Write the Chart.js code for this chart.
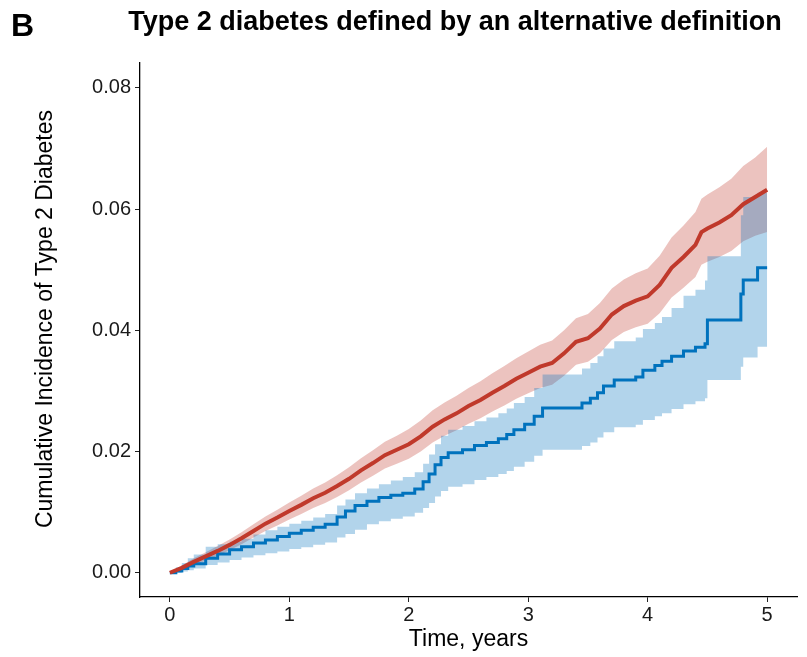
<!DOCTYPE html>
<html>
<head>
<meta charset="utf-8">
<script src="https://cdn.jsdelivr.net/npm/chart.js@4.4.0/dist/chart.umd.min.js"></script>
<style>
  html, body { margin: 0; padding: 0; background: #fff; }
</style>
</head>
<body>
<canvas id="kmChart" width="807" height="657"></canvas>
<script>
// Axis ticks
const xTicks = [0, 1, 2, 3, 4, 5];
const yTicks = [0, 0.02, 0.04, 0.06, 0.08];

// Red group: estimate with 95% CI
const redTime = [0, 0.1, 0.2, 0.3, 0.4, 0.5, 0.6, 0.7, 0.8, 0.9, 1.0, 1.1, 1.2, 1.3, 1.4, 1.5, 1.6, 1.7, 1.8, 1.9,
  2.0, 2.1, 2.2, 2.3, 2.4, 2.5, 2.6, 2.7, 2.8, 2.9, 3.0, 3.1, 3.2, 3.3, 3.4, 3.5, 3.6, 3.7, 3.8, 3.9,
  4.0, 4.1, 4.2, 4.3, 4.4, 4.45, 4.5, 4.6, 4.7, 4.8, 4.9, 5.0];
const redEst = [0, 0.0008, 0.0018, 0.0027, 0.0036, 0.0046, 0.0057, 0.0069, 0.0081, 0.0091, 0.0102, 0.0112, 0.0123, 0.0132, 0.0143, 0.0155, 0.0169, 0.0181, 0.0194, 0.0203,
  0.0212, 0.0225, 0.0241, 0.0253, 0.0263, 0.0275, 0.0285, 0.0297, 0.0308, 0.0320, 0.0330, 0.0340, 0.0346, 0.0362, 0.0381, 0.0387, 0.0403, 0.0426, 0.0440, 0.0449,
  0.0456, 0.0475, 0.0503, 0.0521, 0.0541, 0.0562, 0.0568, 0.0578, 0.0590, 0.0608, 0.0620, 0.0632];
const redLower = [0, 0.0005, 0.0012, 0.0020, 0.0028, 0.0037, 0.0047, 0.0058, 0.0069, 0.0078, 0.0088, 0.0097, 0.0107, 0.0115, 0.0125, 0.0136, 0.0149, 0.0160, 0.0172, 0.0180,
  0.0188, 0.0200, 0.0215, 0.0226, 0.0235, 0.0246, 0.0255, 0.0266, 0.0276, 0.0287, 0.0296, 0.0305, 0.0310, 0.0325, 0.0343, 0.0348, 0.0362, 0.0384, 0.0397, 0.0405,
  0.0411, 0.0428, 0.0454, 0.0470, 0.0488, 0.0508, 0.0513, 0.0521, 0.0531, 0.0547, 0.0556, 0.0562];
const redUpper = [0, 0.0012, 0.0024, 0.0034, 0.0044, 0.0055, 0.0067, 0.0080, 0.0093, 0.0104, 0.0116, 0.0127, 0.0139, 0.0149, 0.0161, 0.0174, 0.0189, 0.0202, 0.0216, 0.0226,
  0.0237, 0.0251, 0.0268, 0.0281, 0.0292, 0.0305, 0.0316, 0.0329, 0.0341, 0.0354, 0.0365, 0.0376, 0.0383, 0.0400, 0.0420, 0.0427, 0.0445, 0.0469, 0.0484, 0.0494,
  0.0502, 0.0523, 0.0553, 0.0573, 0.0595, 0.0617, 0.0624, 0.0636, 0.0650, 0.0671, 0.0685, 0.0703];

// Blue group: step estimate with 95% CI
const blueTime = [0, 0.05, 0.1, 0.15, 0.2, 0.3, 0.4, 0.5, 0.6, 0.7, 0.8, 0.9, 1.0, 1.1, 1.2, 1.3, 1.4,
  1.47, 1.55, 1.65, 1.75, 1.85, 1.95, 2.05, 2.12, 2.17, 2.22, 2.27, 2.33,
  2.45, 2.55, 2.65, 2.75, 2.82, 2.88, 2.97, 3.05, 3.12, 3.45, 3.52, 3.58, 3.63, 3.72,
  3.9, 3.96, 4.06, 4.12, 4.2, 4.3, 4.4, 4.48, 4.5, 4.78, 4.8, 4.92, 5.0];
const blueEst = [0, 0.0003, 0.0007, 0.0011, 0.0015, 0.0024, 0.0031, 0.0038, 0.0043, 0.0049, 0.0054, 0.0060, 0.0065, 0.0070, 0.0075, 0.0080, 0.0092,
  0.0102, 0.0111, 0.0118, 0.0124, 0.0128, 0.0131, 0.0138, 0.0150, 0.0163, 0.0178, 0.0190, 0.0198,
  0.0203, 0.0210, 0.0215, 0.0221, 0.0228, 0.0236, 0.0245, 0.0258, 0.0272, 0.0280, 0.0288, 0.0297, 0.0308, 0.0318,
  0.0323, 0.0334, 0.0342, 0.0349, 0.0357, 0.0366, 0.0372, 0.0378, 0.0417, 0.0460, 0.0483, 0.0503, 0.0503];
const blueLower = [0, 0.0000, 0.0002, 0.0004, 0.0007, 0.0013, 0.0017, 0.0021, 0.0025, 0.0029, 0.0032, 0.0035, 0.0039, 0.0042, 0.0046, 0.0050, 0.0058,
  0.0064, 0.0071, 0.0080, 0.0085, 0.0089, 0.0093, 0.0099, 0.0107, 0.0115, 0.0126, 0.0135, 0.0142,
  0.0146, 0.0153, 0.0158, 0.0163, 0.0168, 0.0175, 0.0183, 0.0193, 0.0203, 0.0209, 0.0215, 0.0223, 0.0232, 0.0240,
  0.0244, 0.0252, 0.0258, 0.0263, 0.0270, 0.0278, 0.0283, 0.0288, 0.0318, 0.0340, 0.0355, 0.0373, 0.0373];
const blueUpper = [0, 0.0009, 0.0016, 0.0024, 0.0030, 0.0043, 0.0047, 0.0051, 0.0056, 0.0063, 0.0070, 0.0076, 0.0081, 0.0086, 0.0091, 0.0097, 0.0111,
  0.0121, 0.0131, 0.0139, 0.0146, 0.0152, 0.0158, 0.0166, 0.0180, 0.0195, 0.0212, 0.0226, 0.0236,
  0.0242, 0.0250, 0.0256, 0.0263, 0.0271, 0.0280, 0.0290, 0.0305, 0.0327, 0.0337, 0.0346, 0.0357, 0.0370, 0.0382,
  0.0388, 0.0402, 0.0412, 0.0422, 0.0437, 0.0457, 0.0467, 0.0482, 0.0522, 0.0590, 0.0620, 0.0627, 0.0627];

const panelLetter = 'B';
const chartTitle = 'Type 2 diabetes defined by an alternative definition';
const xTitle = 'Time, years';
const yTitle = 'Cumulative Incidence of Type 2 Diabetes';

const FONT = '"Liberation Sans", Arial, sans-serif';
const RED = '#C0392B';
const BLUE = '#0072BD';

function pts(times, vals) {
  return times.map((t, i) => ({ x: t, y: vals[i] }));
}

// draws the panel letter, the heading and the rotated y title
const headingPlugin = {
  id: 'heading',
  afterDraw(chart) {
    const ctx = chart.ctx;
    ctx.save();
    ctx.fillStyle = '#000';
    ctx.textBaseline = 'alphabetic';
    ctx.font = 'bold 32px ' + FONT;
    ctx.textAlign = 'left';
    ctx.fillText(panelLetter, 11, 36);
    ctx.font = 'bold 27px ' + FONT;
    ctx.textAlign = 'center';
    ctx.fillText(chartTitle, 455, 30);

    ctx.translate(46, 319);
    ctx.rotate(-Math.PI / 2);
    ctx.font = '23px ' + FONT;
    ctx.textBaseline = 'middle';
    ctx.fillText(yTitle, 0, 0);
    ctx.restore();
  }
};

const band = (data, color, fillTo, order, stepped) => ({
  data: data,
  borderColor: 'transparent',
  borderWidth: 0,
  backgroundColor: color,
  pointRadius: 0,
  fill: fillTo,
  stepped: stepped,
  order: order
});

const ctx = document.getElementById('kmChart').getContext('2d');
new Chart(ctx, {
  type: 'line',
  data: {
    datasets: [
      band(pts(redTime, redLower), 'rgba(192,57,43,0.3)', false, 5, false),
      band(pts(redTime, redUpper), 'rgba(192,57,43,0.3)', 0, 4, false),
      band(pts(blueTime, blueLower), 'rgba(0,114,189,0.3)', false, 3, true),
      band(pts(blueTime, blueUpper), 'rgba(0,114,189,0.3)', 2, 2, true),
      {
        data: pts(blueTime, blueEst),
        borderColor: BLUE,
        borderWidth: 3,
        pointRadius: 0,
        fill: false,
        stepped: true,
        order: 1
      },
      {
        data: pts(redTime, redEst),
        borderColor: RED,
        borderWidth: 4,
        pointRadius: 0,
        fill: false,
        order: 0
      }
    ]
  },
  options: {
    responsive: false,
    animation: false,
    layout: { padding: { left: 0, top: 63, right: 10, bottom: 0 } },
    plugins: {
      legend: { display: false },
      tooltip: { enabled: false },
      title: { display: false }
    },
    scales: {
      x: {
        type: 'linear',
        min: -0.25,
        max: 5.25,
        afterBuildTicks: s => { s.ticks = xTicks.map(v => ({ value: v })); },
        afterFit: s => { s.height = 60; },
        ticks: { color: '#1a1a1a', font: { family: FONT, size: 20 }, padding: 1, maxRotation: 0 },
        grid: { drawOnChartArea: false, tickLength: 5, tickColor: '#222', tickWidth: 1 },
        border: { display: true, color: '#000', width: 1.3 },
        title: { display: true, text: xTitle, color: '#000', font: { family: FONT, size: 23 }, padding: { top: 0, bottom: 4 } }
      },
      y: {
        type: 'linear',
        min: -0.004,
        max: 0.0841,
        afterBuildTicks: s => { s.ticks = yTicks.map(v => ({ value: v })); },
        afterFit: s => { s.width = 140; },
        ticks: { color: '#1a1a1a', font: { family: FONT, size: 20 }, padding: 4, callback: v => v.toFixed(2) },
        grid: { drawOnChartArea: false, tickLength: 5, tickColor: '#222', tickWidth: 1 },
        border: { display: true, color: '#000', width: 1.3 },
        title: { display: false }
      }
    }
  },
  plugins: [headingPlugin]
});
</script>
</body>
</html>
